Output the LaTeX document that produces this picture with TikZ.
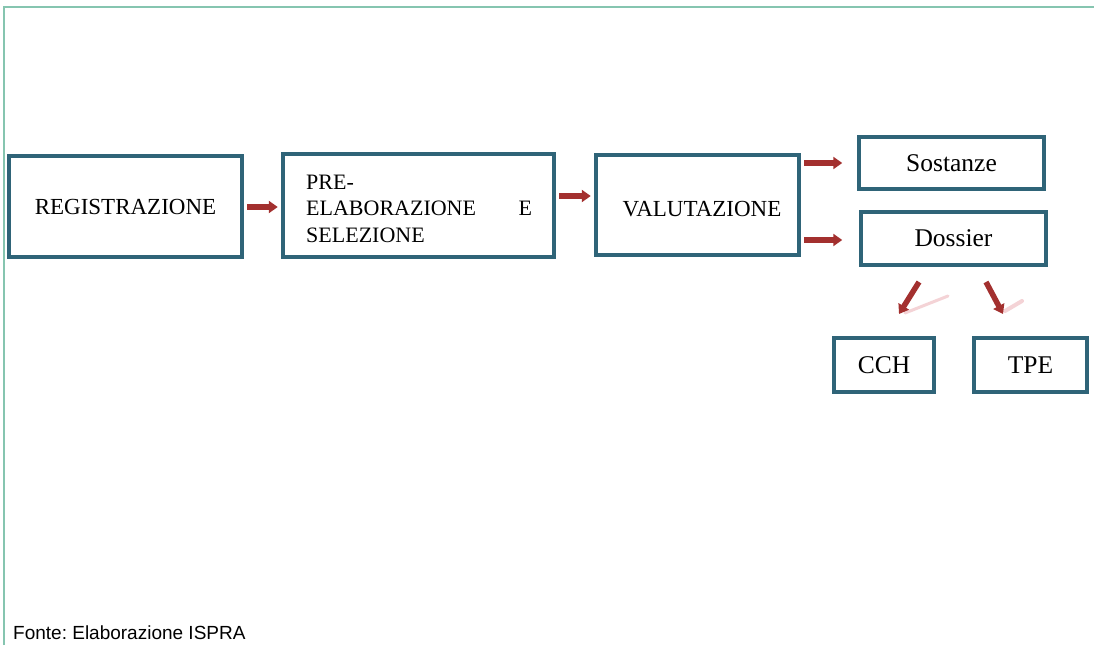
\documentclass[tikz,border=0pt]{standalone}
\usepackage{fontspec}
\setmainfont{Liberation Serif}
\newfontfamily\captionfont{Liberation Sans}
\usetikzlibrary{arrows.meta}
\frenchspacing
\definecolor{frameg}{HTML}{86C5B0}
\definecolor{boxb}{HTML}{2F6478}
\definecolor{arrowr}{HTML}{A3302F}
\definecolor{shadowp}{HTML}{F2C8CC}
\tikzset{
  stage/.style={draw=boxb, line width=4.5pt, fill=white, inner sep=0pt, font=\fontsize{23}{27}\selectfont},
  small/.style={font=\fontsize{25.5}{29}\selectfont},
  flow/.style={draw=arrowr, line width=5.5pt, -{Triangle[length=9pt,width=12pt]}, shorten <=3pt, shorten >=3pt},
  shade/.style={draw=shadowp, line width=3pt, line cap=round, opacity=0.8}
}
\begin{document}
\begin{tikzpicture}[x=1pt,y=-1pt]
\useasboundingbox (0,0) rectangle (1094,645);
\fill[white] (0,0) rectangle (1094,645);
\draw[frameg, line width=2.5pt] (4,645) -- (4,7) -- (1094,7);
% boxes
\node[stage, minimum width=233pt, minimum height=101pt] (reg) at (125.5,206.5) {REGISTRAZIONE};
\node[stage, minimum width=271pt, minimum height=103pt] (pre) at (418.5,205.5) {};
\node[font=\fontsize{22}{26.5}\selectfont, anchor=base west, align=left, inner sep=0pt] (pretxt) at (306,189)
  {\parbox[t]{226pt}{\baselineskip=26.5pt PRE-\\ELABORAZIONE\hfill E\\SELEZIONE}};
\node[stage, minimum width=203pt, minimum height=100pt] (val) at (697.5,205) {};
\node[font=\fontsize{23}{27}\selectfont, anchor=base, inner sep=0pt] (valtxt) at (702,216) {VALUTAZIONE};
\node[stage, small, minimum width=185pt, minimum height=52pt] (sos) at (951.5,163) {Sostanze};
\node[stage, small, minimum width=185pt, minimum height=53pt] (dos) at (953.5,238.5) {Dossier};
\node[stage, small, minimum width=100pt, minimum height=54pt] (cch) at (884,365) {CCH};
\node[stage, small, minimum width=113pt, minimum height=54pt] (tpe) at (1030.5,365) {TPE};
% connectors
\coordinate (a1s) at (243,207); \coordinate (a1e) at (281,207);
\coordinate (a2s) at (555,196); \coordinate (a2e) at (595,196);
\draw[flow] (reg.east |- a1s) -- (pre.west |- a1e);
\draw[flow] (pre.east |- a2s) -- (val.west |- a2e);
\draw[flow] (val.east |- sos) -- ++(44,0) coordinate (a3e);
\coordinate (a4) at (0,240);
\draw[flow] (val.east |- a4) -- ++(44,0) coordinate (a4e);
% downward arrows with their faint reflections
\coordinate (d1s) at (919,282); \coordinate (d1e) at (899,314);
\coordinate (d2s) at (986,282); \coordinate (d2e) at (1003,314);
\draw[shade] (905,313) -- (948,296);
\draw[shade, line width=4pt] (1005,311) -- (1022,301);
\draw[flow, shorten <=0pt, shorten >=0pt] (d1s) -- (d1e);
\draw[flow, shorten <=0pt, shorten >=0pt] (d2s) -- (d2e);
% caption
\node[font=\captionfont\fontsize{19}{22}\selectfont, anchor=base west, inner sep=0pt] (fonte) at (13,639) {Fonte: Elaborazione ISPRA};
\end{tikzpicture}
\end{document}
